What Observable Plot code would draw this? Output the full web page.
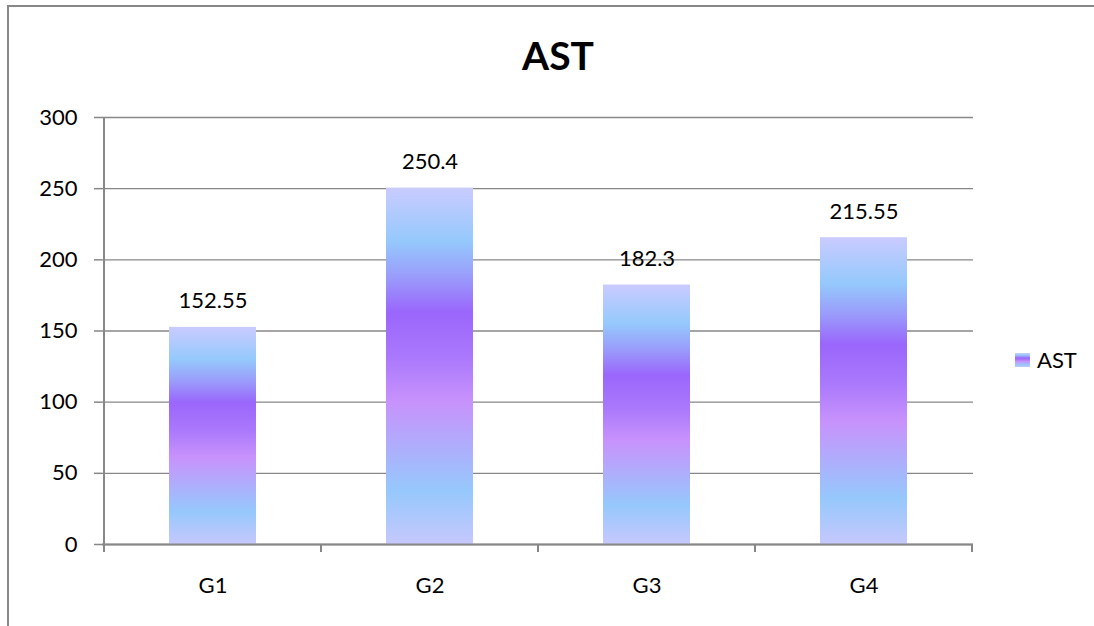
<!DOCTYPE html>
<html>
<head>
<meta charset="utf-8">
<script src="https://cdn.jsdelivr.net/npm/d3@7"></script>
<script src="https://cdn.jsdelivr.net/npm/@observablehq/plot@0.6"></script>
<style>
  html, body { margin: 0; padding: 0; background: #fff; overflow: hidden; width: 1094px; height: 626px; }
  #frame { position: absolute; left: 7px; top: 5px; width: 1200px; height: 700px;
           border-left: 2px solid #878787; border-top: 2px solid #878787; }
  #title { position: absolute; left: 458px; width: 200px; top: 30px; text-align: center;
           font: bold 39px Lato, sans-serif; color: #000; line-height: 50px; }
  #chart { position: absolute; left: 0; top: 100px; }
  #legend { position: absolute; left: 1015px; top: 346px; display: flex; align-items: center;
            font: 22px Lato, sans-serif; color: #000; }
  #legend .sw { width: 15px; height: 14px; margin-right: 7px; }
</style>
</head>
<body>
<div id="frame"></div>
<div id="title">AST</div>
<div id="chart"></div>
<div id="legend"><div class="sw"></div><span>AST</span></div>
<script>
// Mean AST per group
const groups = ["G1", "G2", "G3", "G4"];
const astValues = [152.55, 250.4, 182.3, 215.55];
const yTicks = [0, 50, 100, 150, 200, 250, 300];

// Vertical fill gradient for each bar (top -> bottom)
const gradientStops = [
  [0.00, "#cacbff"],
  [0.15, "#95c9fc"],
  [0.25, "#9a9cfb"],
  [0.35, "#9a66fc"],
  [0.48, "#ab79fc"],
  [0.60, "#c892fc"],
  [0.72, "#b0acfc"],
  [0.85, "#96c8fc"],
  [1.00, "#c6c8fd"]
];

const data = groups.map((g, i) => ({ group: g, value: astValues[i] }));
const grid = "#878787";

const chart = Plot.plot({
  width: 1094,
  height: 526,
  marginLeft: 102,
  marginRight: 121,
  marginTop: 17,
  marginBottom: 82,
  style: { fontFamily: "Lato, sans-serif", fontSize: "22px", color: "#000", background: "transparent" },
  x: { domain: groups, padding: 0, label: null },
  y: { domain: [0, 300], label: null },
  marks: [
    Plot.gridY(yTicks, { stroke: grid, strokeOpacity: 1, strokeWidth: 1.3 }),
    Plot.barY(data, { x: "group", y: "value", fill: "url(#astGrad)", insetLeft: 65, insetRight: 65 }),
    Plot.ruleY([0], { stroke: grid, strokeWidth: 2 }),
    Plot.axisY(yTicks, { tickSize: 8, tickPadding: 17, stroke: grid, strokeWidth: 1.5, fill: "#000", fontSize: 22, label: null }),
    Plot.axisX({ tickSize: 0, tickPadding: 33, fill: "#000", fontSize: 22, label: null }),
    Plot.text(data, { x: "group", y: "value", text: d => String(d.value), dy: -19, lineAnchor: "bottom", fill: "#000", fontSize: 22 })
  ]
});

document.getElementById("chart").appendChild(chart);

// Gradient definition used by the bars
const svg = d3.select(chart.tagName.toLowerCase() === "svg" ? chart : chart.querySelector("svg"));
const lg = svg.insert("defs", ":first-child")
  .append("linearGradient")
  .attr("id", "astGrad")
  .attr("x1", 0).attr("y1", 0).attr("x2", 0).attr("y2", 1);
gradientStops.forEach(([o, c]) => lg.append("stop").attr("offset", o).attr("stop-color", c));

// Y axis line and category boundary ticks, placed with the chart's scales
const xs = chart.scale("x");
const ys = chart.scale("y");
const y0 = ys.apply(0), yTop = ys.apply(300);
const left = xs.apply(groups[0]);
svg.append("line")
  .attr("x1", left).attr("x2", left).attr("y1", yTop).attr("y2", y0)
  .attr("stroke", grid).attr("stroke-width", 2);
const bounds = groups.map(g => xs.apply(g)).concat([xs.apply(groups[groups.length - 1]) + xs.bandwidth]);
svg.append("g").selectAll("line").data(bounds).join("line")
  .attr("x1", d => d).attr("x2", d => d).attr("y1", y0).attr("y2", y0 + 8)
  .attr("stroke", grid).attr("stroke-width", 2);

// Legend swatch uses the same gradient
document.querySelector("#legend .sw").style.background =
  "linear-gradient(to bottom, " + gradientStops.map(([o, c]) => c + " " + (o * 100) + "%").join(", ") + ")";
</script>
</body>
</html>
